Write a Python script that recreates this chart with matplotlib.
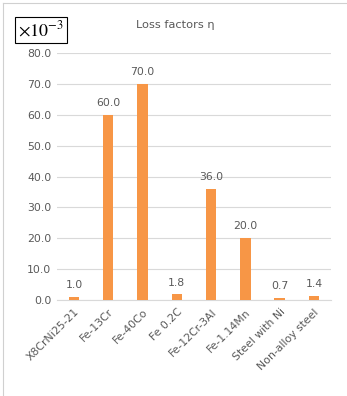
import matplotlib.pyplot as plt
from matplotlib.lines import Line2D

plt.rcParams['mathtext.fontset'] = 'stix'

# Loss factors (x 10^-3) per material
materials = ['X8CrNi25-21', 'Fe-13Cr', 'Fe-40Co', 'Fe 0.2C', 'Fe-12Cr-3Al',
             'Fe-1.14Mn', 'Steel with Ni', 'Non-alloy steel']
loss_factors = [1.0, 60.0, 70.0, 1.8, 36.0, 20.0, 0.7, 1.4]
y_ticks = [0, 10, 20, 30, 40, 50, 60, 70, 80]

gray = '#595959'
bar_color = '#F79646'

fig = plt.figure(figsize=(3.47, 3.96), dpi=100)
ax = fig.add_axes([0.164, 0.2424, 0.79, 0.6236])

x = list(range(len(materials)))
bars = ax.bar(x, loss_factors, width=0.3, color=bar_color, zorder=3)

# value labels above bars
for xi, v in zip(x, loss_factors):
    ax.text(xi, v + 2.2, '%.1f' % v, ha='center', va='bottom',
            fontsize=7.8, color=gray, zorder=4)

ax.set_xlim(-0.5, len(materials) - 0.5)
ax.set_ylim(0, 80)
ax.set_yticks(y_ticks)
ax.set_yticklabels(['%.1f' % t for t in y_ticks], fontsize=7.8, color=gray)
ax.set_xticks(x)
ax.set_xticklabels(materials, rotation=45, ha='right', va='top',
                   rotation_mode='anchor', fontsize=7.8, color=gray)
ax.tick_params(axis='both', length=0, pad=4)
ax.tick_params(axis='x', pad=5)

ax.grid(axis='y', color='#d9d9d9', linewidth=0.8, zorder=0)
for s in ['top', 'right', 'left']:
    ax.spines[s].set_visible(False)
ax.spines['bottom'].set_color('#d9d9d9')
ax.spines['bottom'].set_linewidth(0.8)

# title and scale box
fig.text(0.505, 0.937, 'Loss factors \u03b7', ha='center', va='center',
         fontsize=8.2, color=gray)
fig.text(0.118, 0.924, r'$\times 10^{-3}$', ha='center', va='center',
         fontsize=13, color='black',
         bbox=dict(boxstyle='square,pad=0.15', facecolor='white',
                   edgecolor='black', linewidth=0.8))

# outer chart border
fig.add_artist(Line2D([0.009, 0.009], [0.0, 0.992], transform=fig.transFigure,
                      color='#d0d0d0', linewidth=0.8))
fig.add_artist(Line2D([0.009, 1.0], [0.992, 0.992], transform=fig.transFigure,
                      color='#d0d0d0', linewidth=0.8))

fig.savefig('out.png', dpi=100)
